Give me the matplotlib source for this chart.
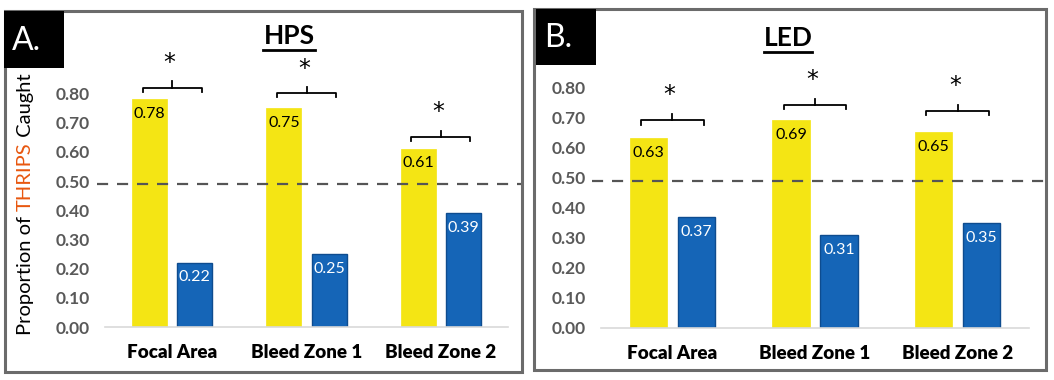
import matplotlib.pyplot as plt
from matplotlib.patches import Rectangle
from matplotlib.transforms import blended_transform_factory

plt.rcParams['font.family'] = ['Lato', 'DejaVu Sans']

categories = ['Focal Area', 'Bleed Zone 1', 'Bleed Zone 2']
hps_yellow = [0.78, 0.75, 0.61]
hps_blue = [0.22, 0.25, 0.39]
led_yellow = [0.63, 0.69, 0.65]
led_blue = [0.37, 0.31, 0.35]
yticks = [0.0, 0.1, 0.2, 0.3, 0.4, 0.5, 0.6, 0.7, 0.8]
chance_line = 0.49

YELLOW = '#F4E514'
BLUE = '#1565B7'
BLUE_EDGE = '#0E4C8F'
TICK_GREY = '#595959'

W, H = 1054, 380
fig = plt.figure(figsize=(W / 100, H / 100), dpi=100)


def fx(px):
    return px / W


def fy(py):
    return 1 - py / H


def panel(rect, yellow, blue, title, letter, frame, box, bracket_y, star_gap):
    ax = fig.add_axes(rect)
    x = range(len(categories))
    off, bw = 0.168, 0.26
    for i in x:
        ax.bar(i - off, yellow[i], bw, color=YELLOW, edgecolor=YELLOW, lw=0.5, zorder=2)
        ax.bar(i + off, blue[i], bw, color=BLUE, edgecolor=BLUE_EDGE, lw=1, zorder=2)
        ax.text(i - off, yellow[i] - 0.05, f'{yellow[i]:.2f}', ha='center', va='center',
                fontsize=11.5, color='black', zorder=3)
        ax.text(i + off, blue[i] - 0.05, f'{blue[i]:.2f}', ha='center', va='center',
                fontsize=11.5, color='white', zorder=3)
        # significance bracket
        by = bracket_y[i]
        xl, xr = i - 0.22, i + 0.22
        ax.plot([xl, xl, xr, xr], [by - 0.014, by, by, by - 0.014], color='black', lw=1.3,
                clip_on=False, zorder=4)
        ax.plot([i, i], [by, by + 0.022], color='black', lw=1.3, clip_on=False, zorder=4)
        ax.text(i - 0.02, by + star_gap, '*', ha='center', va='center', fontsize=17,
                family='DejaVu Sans', color='black', clip_on=False)

    ax.set_xlim(-0.5, len(categories) - 0.5)
    ax.set_ylim(0, 0.9)
    ax.set_yticks(yticks)
    ax.set_yticklabels([f'{v:.2f}' for v in yticks], color=TICK_GREY, fontsize=12.5,
                       fontweight='bold')
    ax.set_xticks(list(x))
    ax.set_xticklabels(categories, fontsize=13.5, fontweight='heavy', color='black')
    ax.tick_params(axis='y', length=0, pad=11)
    ax.tick_params(axis='x', length=0, pad=12)
    for s in ['top', 'right', 'left']:
        ax.spines[s].set_visible(False)
    ax.spines['bottom'].set_color('#d9d9d9')
    ax.spines['bottom'].set_linewidth(1.2)

    # 50% reference line, running past the right edge of the axes
    tr = blended_transform_factory(ax.transAxes, ax.transData)
    ax.plot([-0.02, 1.04], [chance_line, chance_line], transform=tr, color='#555555',
            lw=1.6, ls=(0, (5, 4)), clip_on=False, zorder=3)

    # title with underline
    fig.text(fx(title[1]), fy(title[2]), title[0], ha='center', va='center', fontsize=19,
             fontweight='bold', color='black')
    tw = title[3]
    fig.add_artist(plt.Line2D([fx(title[1] - tw / 2), fx(title[1] + tw / 2)],
                              [fy(title[2] + 14), fy(title[2] + 14)], color='black', lw=2))

    # panel frame
    x0, y0, x1, y1 = frame
    fig.add_artist(Rectangle((fx(x0), fy(y1)), fx(x1 - x0), (y1 - y0) / H, fill=False,
                             edgecolor='#6b6b6b', lw=2.2))
    bx0, by0, bx1, by1 = box
    fig.add_artist(Rectangle((fx(bx0), fy(by1)), fx(bx1 - bx0), (by1 - by0) / H,
                             facecolor='black', edgecolor='black', lw=0))
    fig.text(fx(bx0 + 8), fy((by0 + by1) / 2 + 1), letter, ha='left', va='center',
             fontsize=23, color='white')
    return ax


ax_a = panel([fx(105), fy(327), fx(403), 0.9 * 292 / H], hps_yellow, hps_blue,
             ('HPS', 289, 36, 52), 'A.', (5, 11, 522, 372), (4, 11, 64, 68),
             [0.82, 0.80, 0.65], 0.085)
ax_b = panel([fx(601), fy(328), fx(428), 0.9 * 301 / H], led_yellow, led_blue,
             ('LED', 788, 38, 48), 'B.', (534, 9, 1046, 370), (536, 9, 596, 65),
             [0.69, 0.74, 0.72], 0.085)

# y-axis label with coloured word, stacked along the rotated baseline
renderer = fig.canvas.get_renderer()
parts = [('Proportion of ', 'black'), ('THRIPS', '#E8570F'), (' Caught', 'black')]
ypos = 335
for txt, col in parts:
    t = fig.text(fx(25), fy(ypos), txt, rotation=90, ha='left', va='center',
                 fontsize=14.5, color=col, rotation_mode='anchor')
    bb = t.get_window_extent(renderer)
    ypos -= bb.height

fig.savefig('out.png', dpi=100)
